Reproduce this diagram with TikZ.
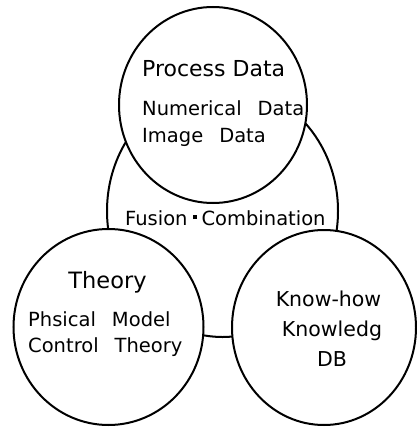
\documentclass[tikz,border=0pt]{standalone}
\usepackage{fontspec}
\setmainfont{DejaVu Sans}
\usetikzlibrary{shapes.geometric}
\newcommand{\gap}{\hspace{16pt}}

\begin{document}
\begin{tikzpicture}[x=1pt, y=-1pt,
  ring/.style={draw, ellipse, line width=2pt, fill=white, inner sep=0pt},
  head/.style={font=\fontsize{22}{26}\selectfont, inner sep=0pt, anchor=base},
  sub/.style={font=\fontsize{19.5}{23}\selectfont, inner sep=0pt, anchor=base west}
]
\useasboundingbox (0,0) rectangle (417,428);

% circles, the middle one first so the others cover it
\node[ring, minimum width=231pt, minimum height=252pt] (fusion) at (222.5,211) {};
\node[ring, minimum width=188pt, minimum height=196pt] (proc) at (213,105) {};
\node[ring, minimum width=190pt, minimum height=196pt] (theory) at (108.5,327) {};
\node[ring, minimum width=184pt, minimum height=195pt] (knowhow) at (324,327.5) {};

% texts
\node[head, anchor=base west] (proctitle) at (142,77) {Process Data};
\node[sub] (numdata) at (142,115) {Numerical\gap Data};
\node[sub] (imgdata) at (142,142) {Image\gap Data};
\node[head, font=\fontsize{19.5}{23}\selectfont, anchor=base west] (fuslabel) at (125,225)
  {Fusion\hspace{5pt}\rule[6pt]{4pt}{4pt}\hspace{5pt}Combination};
\node[head, font=\fontsize{22.5}{26}\selectfont] (theotitle) at (107.5,288) {Theory};
\node[sub] (physmodel) at (28,326) {Phsical\gap Model};
\node[sub] (ctrltheory) at (28,352) {Control\gap Theory};
\node[head, font=\fontsize{20.5}{24}\selectfont] (khtitle) at (328.5,306) {Know-how};
\node[head, font=\fontsize{20.5}{24}\selectfont] (khknow) at (332,336) {Knowledg};
\node[head, font=\fontsize{20.5}{24}\selectfont] (khdb) at (332,366) {DB};

\end{tikzpicture}
\end{document}
